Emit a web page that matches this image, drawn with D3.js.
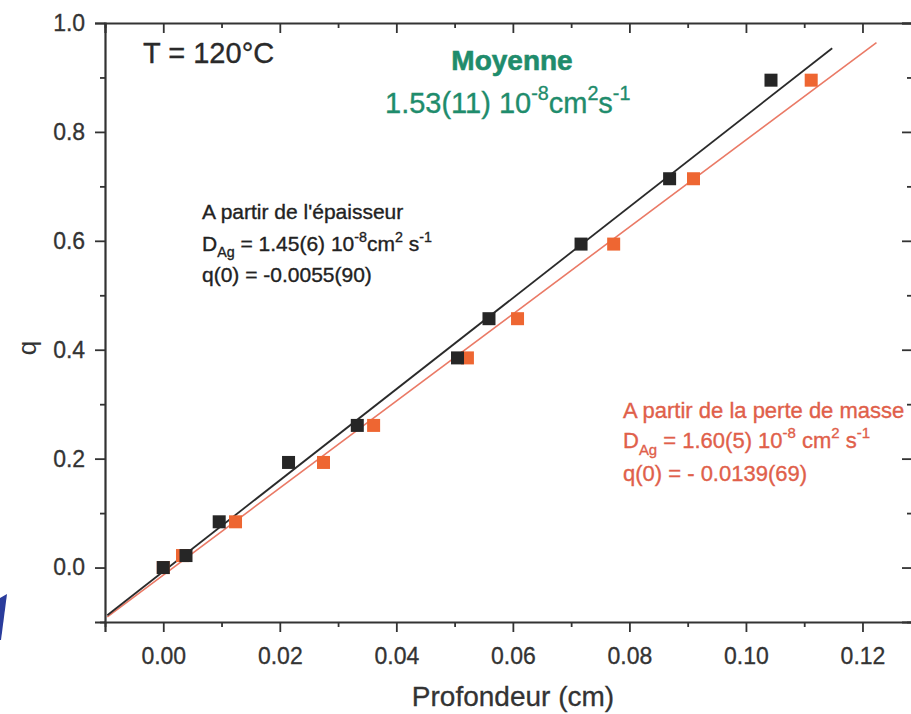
<!DOCTYPE html>
<html>
<head>
<meta charset="utf-8">
<script src="https://cdn.jsdelivr.net/npm/d3@7"></script>
<style>
  body { margin: 0; background: #fff; }
  svg text { font-family: Arial, "Liberation Sans", sans-serif; }
</style>
</head>
<body>
<main></main>
<script>
// depth (cm) and q values
const q_values = [0.0, 0.022, 0.084, 0.193, 0.261, 0.385, 0.457, 0.594, 0.714, 0.895];
const depth_thickness = [0.0, 0.0039, 0.0096, 0.0215, 0.0333, 0.0505, 0.0559, 0.0717, 0.0869, 0.1043];
const depth_mass = [0.0, 0.0033, 0.0124, 0.0275, 0.0361, 0.0522, 0.0608, 0.0773, 0.0910, 0.1112];

// linear fits: [intercept, slope, x start, x end]
const fit_thickness = [-0.0072, 8.37, -0.0096, 0.1148];
const fit_mass = [-0.0139, 7.99, -0.0096, 0.1224];

const x_ticks = [0.00, 0.02, 0.04, 0.06, 0.08, 0.10, 0.12];
const y_ticks = [0.0, 0.2, 0.4, 0.6, 0.8, 1.0];
const x_minor = [-0.01, 0.01, 0.03, 0.05, 0.07, 0.09, 0.11];
const y_minor = [-0.1, 0.1, 0.3, 0.5, 0.7, 0.9];

const width = 911;
const height = 714;
const axis_color = '#333';
const green = '#1f8c6c';
const red = '#e0604a';

let svg = d3.select('main')
  .append('svg')
  .attr('width', width)
  .attr('height', height);

const x = d3.scaleLinear().domain([-0.01, 0.1285]).range([105, 912]);
const y = d3.scaleLinear().domain([-0.1, 1.0]).range([622, 23]);

/**
 * Draw one axis with major and minor ticks
 */
function draw_axis(axis, offset, minor, inner) {
  let g = svg.append('g')
    .attr('transform', offset)
    .style('color', axis_color);
  g.call(axis.tickSizeOuter(0).tickSize(10));
  g.select('.domain').attr('stroke-width', 2.2);
  g.selectAll('.tick line').attr('stroke-width', 1.8);
  g.selectAll('.tick text')
    .attr('fill', axis_color)
    .attr('stroke', axis_color)
    .attr('stroke-width', 0.3)
    .style('font-size', '23px');
  let minor_g = svg.append('g')
    .attr('transform', offset)
    .style('color', axis_color);
  minor_g.call(axis.tickValues(minor).tickSize(5).tickFormat(''));
  minor_g.select('.domain').remove();
  minor_g.selectAll('.tick line').attr('stroke-width', 1.8);
  if (inner) {
    g.selectAll('.tick text').remove();
  }
  return g;
}

draw_axis(d3.axisBottom(x).tickValues(x_ticks).tickFormat(d3.format('.2f')),
  'translate(0,' + y(-0.1) + ')', x_minor, false)
  .selectAll('.tick text').attr('dy', '1.25em');
draw_axis(d3.axisLeft(y).tickValues(y_ticks).tickFormat(d3.format('.1f')),
  'translate(' + x(-0.01) + ',0)', y_minor, false)
  .selectAll('.tick text').attr('dx', '-0.3em');
draw_axis(d3.axisBottom(x).tickValues(x_ticks),
  'translate(0,' + y(1.0) + ')', x_minor, true);
draw_axis(d3.axisLeft(y).tickValues(y_ticks),
  'translate(' + x(0.1285) + ',0)', y_minor, true);

// fitted lines
function fit_line(fit) {
  return [[fit[2], fit[0] + fit[1] * fit[2]], [fit[3], fit[0] + fit[1] * fit[3]]];
}
const line = d3.line()
  .x(function (d) { return x(d[0]); })
  .y(function (d) { return y(d[1]); });

svg.append('path')
  .datum(fit_line(fit_mass))
  .attr('d', line)
  .attr('fill', 'none')
  .attr('stroke', '#ea7a66')
  .attr('stroke-width', 1.6);

svg.append('path')
  .datum(fit_line(fit_thickness))
  .attr('d', line)
  .attr('fill', 'none')
  .attr('stroke', '#2a2a2a')
  .attr('stroke-width', 1.8);

// square markers
const sq = 13;
function draw_squares(depths, color) {
  svg.append('g')
    .selectAll('rect')
    .data(q_values)
    .enter()
    .append('rect')
    .attr('x', function (d, i) { return x(depths[i]) - sq / 2; })
    .attr('y', function (d) { return y(d) - sq / 2; })
    .attr('width', sq)
    .attr('height', sq)
    .attr('fill', color);
}
draw_squares(depth_mass, '#ee6632');
draw_squares(depth_thickness, '#262626');

/**
 * Write text with sub / superscripts
 * @param parts list of [string, 'n'|'sup'|'sub']
 */
function rich_text(px, py, parts, size, color, anchor, weight) {
  let t = svg.append('text')
    .attr('x', px)
    .attr('y', py)
    .attr('fill', color)
    .attr('stroke', color)
    .attr('stroke-width', weight === 'bold' ? 0.6 : 0.35)
    .attr('text-anchor', anchor || 'start')
    .style('font-size', size + 'px')
    .style('font-weight', weight || 'normal');
  let shift = 0;
  parts.forEach(function (p) {
    let target = p[1] === 'sup' ? -0.45 * size : (p[1] === 'sub' ? 0.3 * size : 0);
    t.append('tspan')
      .attr('dy', target - shift)
      .style('font-size', (p[1] === 'n' ? size : size * 0.68) + 'px')
      .text(p[0]);
    shift = target;
  });
  return t;
}

rich_text(143, 63, [['T = 120°C', 'n']], 29, '#2a2a2a');

rich_text(512, 70, [['Moyenne', 'n']], 28, green, 'middle', 'bold');
rich_text(385, 113, [['1.53(11) 10', 'n'], ['-8', 'sup'], ['cm', 'n'], ['2', 'sup'], ['s', 'n'], ['-1', 'sup']], 29, green);

rich_text(202, 219, [["A partir de l'épaisseur", 'n']], 21, '#222');
rich_text(202, 251, [['D', 'n'], ['Ag', 'sub'], [' = 1.45(6) 10', 'n'], ['-8', 'sup'], ['cm', 'n'], ['2', 'sup'], [' s', 'n'], ['-1', 'sup']], 21, '#222');
rich_text(202, 282, [['q(0) = -0.0055(90)', 'n']], 21, '#222');

rich_text(623, 418, [['A partir de la perte de masse', 'n']], 22, red);
rich_text(623, 448, [['D', 'n'], ['Ag', 'sub'], [' = 1.60(5) 10', 'n'], ['-8', 'sup'], [' cm', 'n'], ['2', 'sup'], [' s', 'n'], ['-1', 'sup']], 22, red);
rich_text(623, 481, [['q(0) = - 0.0139(69)', 'n']], 22, red);

// axis titles
svg.append('text')
  .attr('x', 513)
  .attr('y', 706)
  .attr('text-anchor', 'middle')
  .attr('fill', '#333')
  .attr('stroke', '#333')
  .attr('stroke-width', 0.3)
  .style('font-size', '28px')
  .text('Profondeur (cm)');

svg.append('text')
  .attr('transform', 'translate(36,348) rotate(-90)')
  .attr('text-anchor', 'middle')
  .attr('fill', '#333')
  .style('font-size', '26px')
  .text('q');

// blue corner of the slide
svg.append('path')
  .attr('d', 'M0,598 L7,594 L1,640 L0,640 Z')
  .attr('fill', '#2a3c9c');
</script>
</body>
</html>
